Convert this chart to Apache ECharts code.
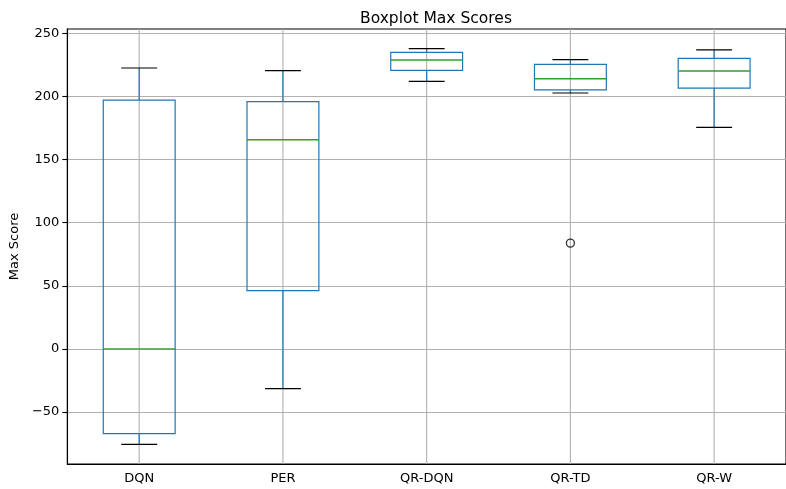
<!DOCTYPE html>
<html>
<head>
<meta charset="utf-8">
<script src="https://cdn.jsdelivr.net/npm/echarts@6/dist/echarts.min.js"></script>
<style>
  html, body { margin: 0; padding: 0; background: #fff; }
  #chart { width: 786px; height: 489px; }
</style>
</head>
<body>
<div id="chart"></div>
<script>
// Agents compared
const categories = ['DQN', 'PER', 'QR-DQN', 'QR-TD', 'QR-W'];
// Five-number summaries per agent (whisker low, Q1, median, Q3, whisker high)
const whiskerLow  = [-75.6, -31.5, 211.9, 202.7, 175.4];
const q1          = [-67.1,  46.2, 220.6, 205.1, 206.6];
const median      = [  0.0, 165.7, 228.8, 214.0, 220.1];
const q3          = [197.1, 195.8, 234.9, 225.4, 230.1];
const whiskerHigh = [222.5, 220.4, 237.8, 229.1, 236.8];
// Outlying points: [category index, value]
const outliers = [[3, 83.8]];
// Y axis range and ticks
const yMin = -91.2, yMax = 253.4;
const yTicks = [-50, 0, 50, 100, 150, 200, 250];

const FONT = 'DejaVu Sans';
const BLUE = '#1f77b4', GREEN = '#2ca02c', GRID = '#b0b0b0';

const boxData = categories.map((c, i) => [i, whiskerLow[i], q1[i], median[i], q3[i], whiskerHigh[i]]);

function renderBox(params, api) {
  const i = api.value(0);
  const band = api.size([1, 0])[0];
  const half = band * 0.25;      // box half-width
  const cap = band * 0.125;      // cap half-width
  const pLo = api.coord([i, api.value(1)]);
  const pQ1 = api.coord([i, api.value(2)]);
  const pMed = api.coord([i, api.value(3)]);
  const pQ3 = api.coord([i, api.value(4)]);
  const pHi = api.coord([i, api.value(5)]);
  const top = api.coord([i, yMax]);
  const bot = api.coord([i, yMin]);
  const x = pMed[0];
  const lw = 1.2;
  const line = (x1, y1, x2, y2, color, z2, w) => ({
    type: 'line', z2: z2,
    shape: { x1, y1, x2, y2 },
    style: { stroke: color, lineWidth: w || lw }
  });
  return {
    type: 'group',
    children: [
      line(x, top[1], x, bot[1], GRID, 0, 1.1),
      line(x, pQ3[1], x, pHi[1], BLUE, 1),
      line(x, pQ1[1], x, pLo[1], BLUE, 1),
      line(x - cap, pHi[1], x + cap, pHi[1], '#000', 2),
      line(x - cap, pLo[1], x + cap, pLo[1], '#000', 2),
      {
        type: 'rect', z2: 2,
        shape: { x: x - half, y: pQ3[1], width: half * 2, height: pQ1[1] - pQ3[1] },
        style: { fill: 'none', stroke: BLUE, lineWidth: lw }
      },
      line(x - half, pMed[1], x + half, pMed[1], GREEN, 3, 1.4)
    ]
  };
}

const chart = echarts.init(document.getElementById('chart'), null, { renderer: 'canvas' });
chart.setOption({
  animation: false,
  backgroundColor: '#fff',
  title: {
    text: 'Boxplot Max Scores',
    left: 431, top: 6, textAlign: 'center',
    textStyle: { fontFamily: FONT, fontSize: 15.5, fontWeight: 'normal', color: '#000' }
  },
  grid: {
    left: 66.5, right: -9, top: 29, bottom: 25,
    show: true, borderColor: '#000', borderWidth: 1.1, backgroundColor: 'transparent'
  },
  xAxis: {
    type: 'category',
    data: categories,
    axisLine: { onZero: false, lineStyle: { color: '#000', width: 1.1 } },
    axisTick: { alignWithLabel: true, length: 5, lineStyle: { color: '#000', width: 1.1 } },
    axisLabel: { fontFamily: FONT, fontSize: 13, color: '#000', margin: 8 },
    splitLine: { show: false }
  },
  yAxis: {
    type: 'value',
    min: yMin, max: yMax,
    name: 'Max Score',
    nameLocation: 'middle',
    nameGap: 40,
    nameTextStyle: { fontFamily: FONT, fontSize: 13, color: '#000' },
    axisLine: { show: true, lineStyle: { color: '#000', width: 1.1 } },
    axisTick: { show: true, length: 5, customValues: yTicks, lineStyle: { color: '#000', width: 1.1 } },
    axisLabel: {
      fontFamily: FONT, fontSize: 13, color: '#000', margin: 8,
      customValues: yTicks,
      formatter: v => String(v).replace('-', '\u2212')
    },
    splitLine: { show: true, customValues: yTicks, lineStyle: { color: GRID, width: 1.1 } }
  },
  series: [
    {
      type: 'custom',
      renderItem: renderBox,
      encode: { x: 0, y: [1, 2, 3, 4, 5] },
      data: boxData,
      z: 2
    },
    {
      type: 'scatter',
      data: outliers,
      symbol: 'circle',
      symbolSize: 8,
      itemStyle: { color: 'transparent', borderColor: '#000', borderWidth: 1.3 },
      z: 3
    }
  ]
});
</script>
</body>
</html>
